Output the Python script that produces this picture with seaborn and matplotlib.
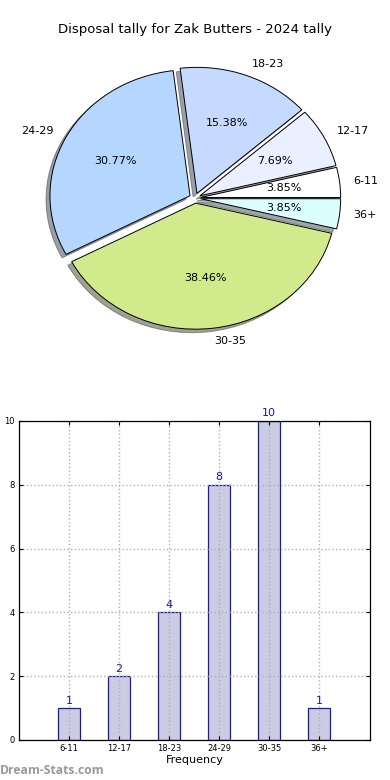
import matplotlib
matplotlib.use("Agg")
import matplotlib.pyplot as plt
import seaborn as sns
import pandas as pd

# data
age_groups = ["6-11", "12-17", "18-23", "24-29", "30-35", "36+"]
disposals = [1, 2, 4, 8, 10, 1]
slice_colors = ["#ffffff", "#eaf0ff", "#c6daff", "#b5d6ff", "#d0ea8c", "#dbffff"]
explode = [0.04, 0.04, 0.04, 0.04, 0.04, 0.04]
title = "Disposal tally for Zak Butters - 2024 tally"

sns.set_style("white")
plt.rcParams['font.family'] = ['DejaVu Sans']
plt.rcParams.update({"text.color": "black", "axes.labelcolor": "black",
                     "xtick.color": "black", "ytick.color": "black"})

df = pd.DataFrame({"age": age_groups, "count": disposals})

fig = plt.figure(figsize=(3.9, 7.8), dpi=100)
fig.text(0.5, 1 - 30 / 780, title, ha="center", va="center", fontsize=9.5)

# pie (old-style, not forced circular)
ax1 = fig.add_axes([0.051, 0.544, 0.898, 0.404])
wedges, texts, autotexts = ax1.pie(df["count"], labels=df["age"], colors=slice_colors,
                                   explode=explode, autopct="%.2f%%", shadow=True,
                                   startangle=0, pctdistance=0.6, labeldistance=1.1,
                                   wedgeprops={"edgecolor": "black", "linewidth": 0.7},
                                   textprops={"fontsize": 8, "color": "black"})
ax1.set_aspect("auto")
ax1.set_xlim(-1.25, 1.25)
ax1.set_ylim(-1.25, 1.25)

# bar chart
ax2 = fig.add_axes([0.0487, 0.0513, 0.9, 0.409])
sns.barplot(data=df, x="age", y="count", ax=ax2, width=0.45, color="#cbcbe3",
            edgecolor="#1a1a9a", linewidth=0.9, saturation=1)
for i, v in enumerate(disposals):
    ax2.text(i, v + 0.08, str(v), ha="center", va="bottom", fontsize=8, color="#1a1a9a")
ax2.set_xlim(-1, 6.02)
ax2.set_ylim(0, 10)
ax2.set_yticks([0, 2, 4, 6, 8, 10])
ax2.set_axisbelow(False)
ax2.grid(True, linestyle=":", color="#b0b0b0", linewidth=1)
ax2.tick_params(axis="both", labelsize=6, direction="in", length=3, top=True, right=True,
                bottom=True, left=True, pad=3)
for s in ax2.spines.values():
    s.set_color("black")
    s.set_linewidth(0.9)
    s.set_zorder(5)
ax2.set_xlabel("Frequency", fontsize=8, labelpad=1)
ax2.set_ylabel("Disposal Tally", fontsize=8)

fig.text(0.0, 1 - 770 / 780, "Dream-Stats.com", ha="left", va="center", fontsize=8.7,
         color="#999999", fontweight="bold", family=["Open Sans", "DejaVu Sans"])

fig.savefig("out.png", dpi=100)
